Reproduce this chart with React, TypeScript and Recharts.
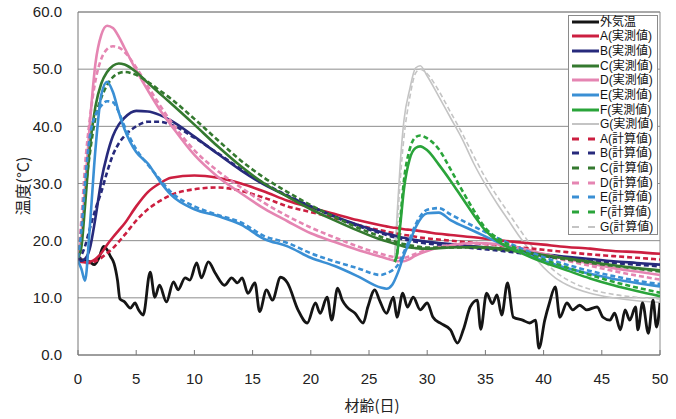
import React from 'react';
import { LineChart, Line, XAxis, YAxis, CartesianGrid, ReferenceLine, Legend } from 'recharts';

// ---- data ----
const xTicks = [0, 5, 10, 15, 20, 25, 30, 35, 40, 45, 50];
const yTicks = [0, 10, 20, 30, 40, 50, 60];

const outdoorDays = [0,0.5,1,1.4,1.8,2.2,2.5,2.8,3.1,3.4,3.6,4.0,4.5,4.9,5.2,5.6,6.2,6.6,7.0,7.6,8.2,8.6,9.2,9.6,10.2,10.6,11.2,11.8,12.6,13.2,13.7,14.1,14.6,15.2,15.6,16.2,16.7,17.4,18.0,18.9,19.7,20.4,20.8,21.4,21.8,22.3,22.7,23.1,23.8,24.5,24.9,25.5,25.9,26.5,27.1,27.4,27.9,28.3,28.8,29.4,30.0,30.5,31.1,32.0,32.6,33.1,33.7,34.3,34.6,35.1,35.6,36.0,36.4,36.9,37.4,38.2,38.8,39.3,39.6,40.1,40.5,41.0,41.4,42.0,42.5,43.1,43.7,44.6,45.1,45.7,46.1,46.6,47.0,47.4,47.9,48.1,48.5,49.0,49.4,49.7,50];
const outdoorTemp = [16.8,16.6,16.3,15.8,17.0,19.0,18.4,17.2,16.0,13.0,9.8,9.3,8.2,9.1,7.9,7.0,14.5,10.1,12.2,9.3,12.8,11.4,13.5,13.1,16.1,13.5,16.3,14.3,12.2,13.5,12.6,13.5,10.8,12.6,7.6,11.4,9.6,13.6,12.6,7.9,5.6,9.1,7.3,10.1,6.1,11.7,9.6,8.4,7.3,5.6,8.4,11.4,9.6,7.3,10.1,6.6,10.8,8.4,10.1,7.9,9.1,6.6,5.6,4.4,2.1,4.4,8.4,9.6,4.5,10.8,9.0,10.5,7.0,12.6,6.6,6.1,5.6,6.1,1.2,6.1,9.1,11.9,6.6,9.1,7.9,8.7,7.9,8.4,6.6,6.1,7.3,4.4,7.9,6.1,8.4,4.4,9.1,3.8,9.6,4.9,9.1];

const concreteDays = [0,0.3,0.6,1,1.5,2,2.5,3,3.5,4,5,6,7,8,10,12,14,16,18,20,22,24,26,26.5,27,27.5,28,28.5,29,30,31,32,34,36,38,40,42,44,46,48,50];
const aMeasured = [16.5,16.3,16.2,16.3,16.8,17.8,19.3,20.6,21.8,23.0,26.0,28.5,30.0,31.0,31.4,31.0,30.0,28.6,27.0,25.8,24.7,23.6,22.7,22.5,22.3,22.2,22.0,21.9,21.8,21.5,21.2,21.0,20.6,20.1,19.7,19.3,18.9,18.6,18.2,18.0,17.7];
const aCalc = [16.5,16.3,16.1,16.1,16.4,17.0,17.8,18.7,19.8,21.0,23.5,25.5,26.9,28.0,29.0,29.3,28.7,27.5,26.0,25.0,24.0,22.8,21.8,21.6,21.4,21.2,21.0,20.9,20.7,20.4,20.2,20.0,19.6,19.2,18.8,18.4,18.0,17.6,17.3,17.0,16.7];
const bMeasured = [16.5,16.5,16.8,18.5,24.0,30.5,35.0,38.3,40.3,41.5,42.7,42.6,42.0,41.0,38.2,35.2,32.3,29.8,27.8,26.0,24.3,22.8,21.5,21.2,21.0,20.7,20.5,20.3,20.1,19.8,19.6,19.4,19.0,18.6,18.1,17.6,17.2,16.8,16.4,16.1,15.8];
const bCalc = [16.5,17.5,19.0,22.0,25.5,28.5,32.0,35.0,37.0,38.3,40.0,40.8,40.8,40.3,38.0,35.3,32.5,30.0,27.9,26.0,24.2,22.6,21.3,21.0,20.7,20.5,20.2,20.0,19.8,19.5,19.3,19.1,18.7,18.3,17.8,17.3,16.9,16.5,16.1,15.8,15.5];
const cMeasured = [17.0,19.0,26.0,36.0,43.5,47.5,49.5,50.6,51.0,50.8,49.5,47.6,45.8,44.0,40.3,36.5,33.0,30.0,27.7,25.5,23.6,21.8,20.2,19.9,19.6,19.3,19.0,18.8,18.7,18.6,18.7,18.8,18.9,18.7,18.2,17.5,16.9,16.3,15.7,15.2,14.8];
const cCalc = [17.0,21.0,28.0,35.0,41.5,45.0,47.2,48.6,49.3,49.5,49.0,47.8,46.3,44.8,41.3,37.6,34.0,31.0,28.5,26.2,24.2,22.3,20.7,20.3,20.0,19.7,19.4,19.2,19.0,18.8,18.8,18.8,18.8,18.5,18.0,17.3,16.7,16.1,15.6,15.1,14.6];
const dMeasured = [17.0,21.0,29.0,40.0,51.0,56.0,57.6,57.2,55.7,53.7,49.8,46.3,43.0,40.2,35.0,31.2,28.3,25.6,23.4,21.3,19.8,18.4,17.2,16.9,16.6,16.4,16.4,16.8,17.4,18.2,18.8,19.2,19.6,19.4,18.7,17.7,16.8,16.0,15.2,14.6,14.0];
const dCalc = [17.0,24.0,33.0,41.0,48.0,51.8,53.5,54.0,53.8,53.0,50.3,47.0,43.8,40.8,35.8,32.2,29.3,26.6,24.3,22.3,20.6,19.0,17.7,17.4,17.2,17.0,17.0,17.3,17.7,18.4,18.9,19.2,19.5,19.3,18.6,17.5,16.5,15.6,14.7,13.9,13.2];
const eMeasured = [16.5,15.0,13.0,22.0,36.0,45.5,47.8,46.0,42.5,39.5,35.5,33.5,30.5,28.0,25.5,24.3,22.8,20.3,19.0,17.0,15.6,13.8,11.8,11.6,12.3,14.5,17.5,19.8,22.3,24.8,24.9,23.6,21.7,19.8,18.0,16.5,15.2,14.2,13.3,12.6,12.0];
const eCalc = [17.0,22.0,30.0,38.0,42.0,43.6,44.4,44.2,42.5,40.0,36.0,33.3,30.8,28.5,26.0,24.5,23.2,20.8,19.6,17.8,16.4,15.2,14.0,14.3,14.8,15.8,18.0,20.3,22.8,25.4,25.7,24.6,22.5,20.5,18.7,17.1,15.8,14.7,13.8,13.0,12.4];

const lateDays = [27.2,27.4,27.7,28,28.5,29,29.4,30,31,32,33,34,35,36,37,38,39,40,41,42,44,46,48,50];
const fMeasured = [16.3,17.5,23.0,29.0,34.3,36.2,36.5,35.8,33.3,30.5,27.5,24.5,21.8,20.0,18.8,17.9,17.0,16.2,15.5,14.8,13.4,12.2,11.2,10.3];
const fCalc = [16.3,17.5,24.0,30.5,36.0,38.1,38.4,37.9,36.0,32.5,28.8,25.3,22.2,20.5,19.3,18.3,17.5,16.7,16.0,15.3,14.0,12.8,11.8,10.9];
const gMeasured = [17.0,24.0,34.0,41.0,46.5,50.2,50.6,48.8,45.2,41.5,37.8,33.5,29.8,26.5,23.5,20.5,17.8,15.3,13.5,12.3,10.8,10.0,9.5,9.2];
const gCalc = [17.0,22.0,31.0,38.0,45.0,49.3,50.0,49.2,46.2,42.5,38.8,34.8,31.0,27.8,24.8,21.8,19.0,16.5,14.6,13.2,11.5,10.6,10.1,9.8];

// ---- series config ----
const RED = '#cc1f40';
const NAVY = '#272a7c';
const DGREEN = '#34792f';
const PINK = '#e585b2';
const BLUE = '#3a8fd4';
const GREEN = '#2aa43a';
const GRAY = '#c4c4c4';

type S = { key: string; name: string; color: string; dashed: boolean; width: number; days: number[]; values: number[] };
const series: S[] = [
  { key: 'out', name: '外気温', color: '#151515', dashed: false, width: 2.8, days: outdoorDays, values: outdoorTemp },
  { key: 'aM', name: 'A(実測値)', color: RED, dashed: false, width: 2.6, days: concreteDays, values: aMeasured },
  { key: 'bM', name: 'B(実測値)', color: NAVY, dashed: false, width: 2.6, days: concreteDays, values: bMeasured },
  { key: 'cM', name: 'C(実測値)', color: DGREEN, dashed: false, width: 2.6, days: concreteDays, values: cMeasured },
  { key: 'dM', name: 'D(実測値)', color: PINK, dashed: false, width: 2.6, days: concreteDays, values: dMeasured },
  { key: 'eM', name: 'E(実測値)', color: BLUE, dashed: false, width: 2.6, days: concreteDays, values: eMeasured },
  { key: 'fM', name: 'F(実測値)', color: GREEN, dashed: false, width: 2.6, days: lateDays, values: fMeasured },
  { key: 'gM', name: 'G(実測値)', color: GRAY, dashed: false, width: 1.6, days: lateDays, values: gMeasured },
  { key: 'aC', name: 'A(計算値)', color: RED, dashed: true, width: 2.6, days: concreteDays, values: aCalc },
  { key: 'bC', name: 'B(計算値)', color: NAVY, dashed: true, width: 2.6, days: concreteDays, values: bCalc },
  { key: 'cC', name: 'C(計算値)', color: DGREEN, dashed: true, width: 2.6, days: concreteDays, values: cCalc },
  { key: 'dC', name: 'D(計算値)', color: PINK, dashed: true, width: 2.6, days: concreteDays, values: dCalc },
  { key: 'eC', name: 'E(計算値)', color: BLUE, dashed: true, width: 2.6, days: concreteDays, values: eCalc },
  { key: 'fC', name: 'F(計算値)', color: GREEN, dashed: true, width: 2.6, days: lateDays, values: fCalc },
  { key: 'gC', name: 'G(計算値)', color: GRAY, dashed: true, width: 1.6, days: lateDays, values: gCalc },
];

const rowMap = new Map<number, Record<string, number>>();
series.forEach((s) => {
  s.days.forEach((d, i) => {
    const row = rowMap.get(d) ?? { day: d };
    row[s.key] = s.values[i];
    rowMap.set(d, row);
  });
});
const chartData = Array.from(rowMap.values()).sort((a, b) => a.day - b.day);

const drawOrder = ['gC', 'gM', 'out', 'aC', 'aM', 'bC', 'bM', 'dC', 'dM', 'cC', 'cM', 'eC', 'eM', 'fC', 'fM'];

const TICK_FONT = '"Liberation Sans", Arial, sans-serif';
const JP_FONT = '"Noto Sans CJK JP", "Noto Sans", sans-serif';
const LEGEND_FONT = '"Liberation Sans", "Noto Sans CJK JP", sans-serif';
const ROW = 14.64;

const renderLegend = () => (
  <div
    style={{
      position: 'relative',
      width: 90,
      height: 220,
      border: '1px solid #8a8a8a',
      background: '#fff',
      boxSizing: 'border-box',
      fontFamily: LEGEND_FONT,
      fontSize: 12,
      color: '#111',
    }}
  >
    {series.map((s, i) => (
      <div
        key={s.key}
        style={{ position: 'absolute', left: 0, top: 5.7 + i * ROW - 7, height: 14, width: 92, display: 'flex', alignItems: 'center' }}
      >
        <svg width={31} height={14} style={{ flex: 'none' }}>
          <line
            x1={3}
            y1={7}
            x2={30}
            y2={7}
            stroke={s.color}
            strokeWidth={s.key.startsWith('g') ? 2 : 3}
            strokeDasharray={s.dashed ? '7 9' : undefined}
          />
        </svg>
        <span style={{ whiteSpace: 'nowrap', lineHeight: '14px' }}>{s.name}</span>
      </div>
    ))}
  </div>
);

export default function App() {
  return (
    <div style={{ position: 'absolute', left: 0, top: 0, width: 676, height: 419, background: '#fff' }}>
      <LineChart width={676} height={419} data={chartData} margin={{ top: 12, right: 16, bottom: 0, left: 0 }}>
        <CartesianGrid horizontal vertical={false} stroke="#8c8c8c" strokeWidth={1} />
        <XAxis
          dataKey="day"
          type="number"
          domain={[0, 50]}
          ticks={xTicks}
          allowDataOverflow
          height={64}
          stroke="#777"
          tickSize={-5}
          tickMargin={23}
          tick={{ fill: '#222', fontSize: 15, fontFamily: TICK_FONT }}
          label={{
            content: () => (
              <text x={372} y={404} textAnchor="middle" dominantBaseline="central" fontFamily={JP_FONT} fontSize={15} fill="#222">
                材齢(日)
              </text>
            ),
          }}
        />
        <YAxis
          type="number"
          domain={[0, 60]}
          ticks={yTicks}
          width={78}
          stroke="#777"
          tickLine={false}
          tickSize={6}
          tickMargin={10}
          tickFormatter={(v: number) => v.toFixed(1)}
          tick={{ fill: '#222', fontSize: 15, fontFamily: TICK_FONT }}
          label={{
            content: () => (
              <text
                x={22}
                y={186}
                transform="rotate(-90, 22, 186)"
                textAnchor="middle"
                dominantBaseline="central"
                fontFamily={JP_FONT}
                fontSize={16}
                fill="#222"
              >
                温度(°C)
              </text>
            ),
          }}
        />
        <ReferenceLine y={60} stroke="#8c8c8c" />
        <ReferenceLine x={50} stroke="#8c8c8c" />
        {drawOrder.map((k) => {
          const s = series.find((x) => x.key === k)!;
          return (
            <Line
              key={s.key}
              dataKey={s.key}
              name={s.name}
              type="monotone"
              stroke={s.color}
              strokeWidth={s.width}
              strokeDasharray={s.dashed ? '5 3' : undefined}
              dot={false}
              activeDot={false}
              connectNulls
              isAnimationActive={false}
            />
          );
        })}
        <Legend
          layout="vertical"
          align="center"
          verticalAlign="middle"
          content={renderLegend}
          wrapperStyle={{ left: 568, top: 15, width: 90, height: 220 }}
        />
      </LineChart>
    </div>
  );
}
